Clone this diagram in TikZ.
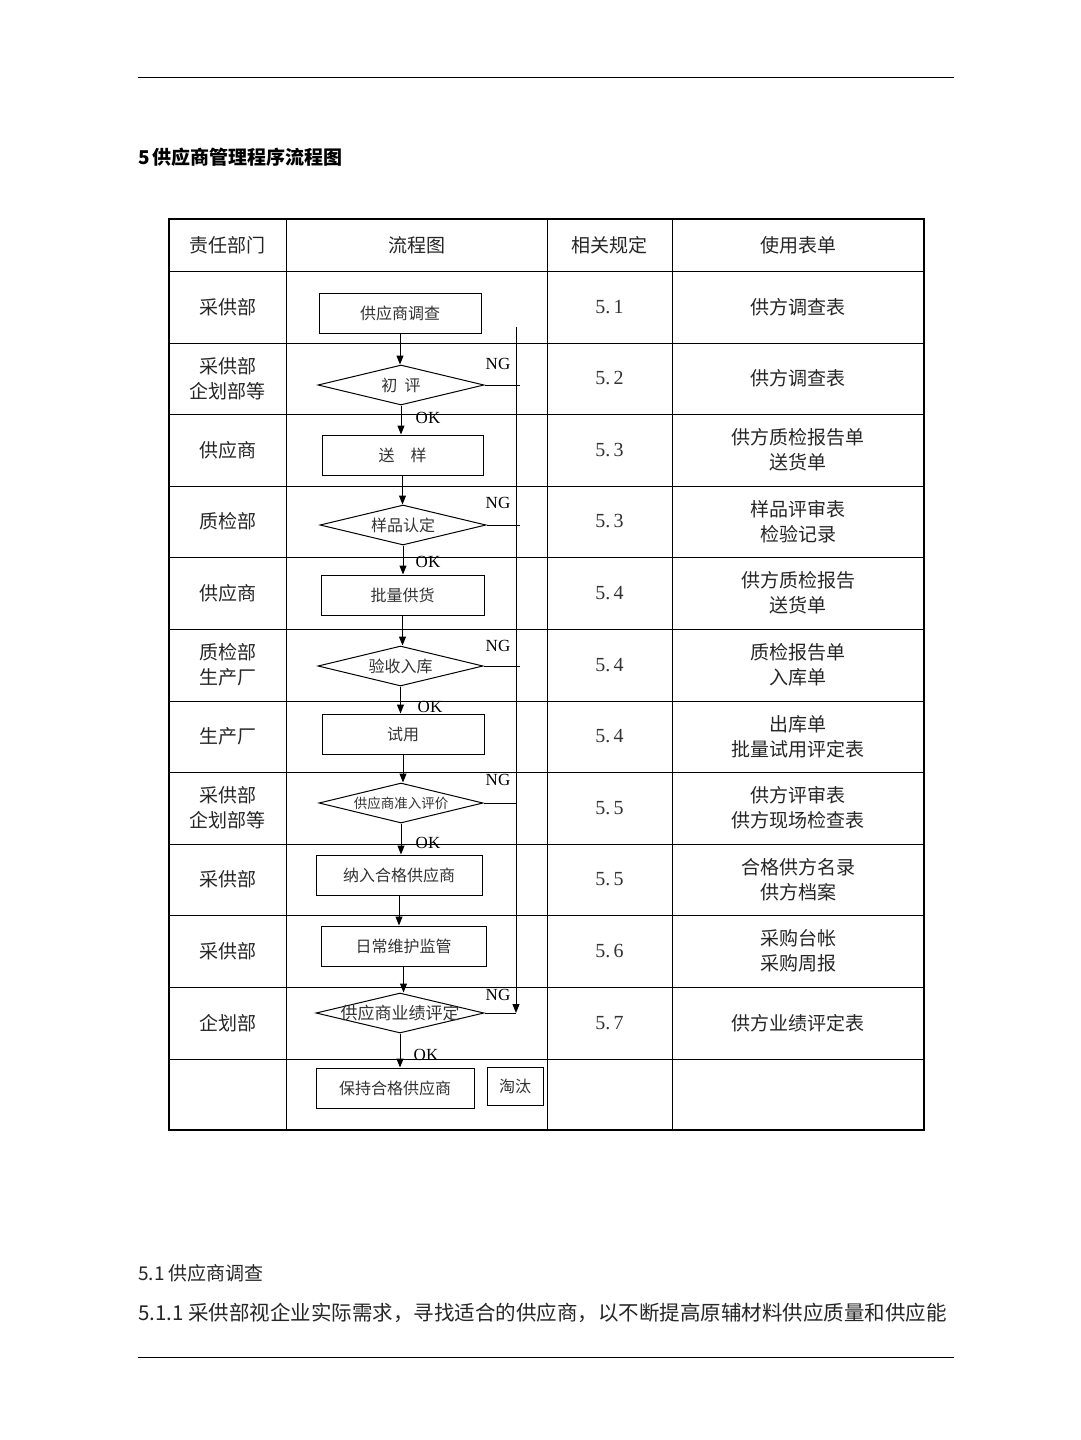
\documentclass[tikz,border=0pt]{standalone}
\usepackage{fontspec}
\newfontfamily\cjk{Noto Sans CJK SC}
\setmainfont{Liberation Serif}
\usetikzlibrary{shapes.geometric,arrows.meta}
\begin{document}
\begin{tikzpicture}[x=1pt,y=-1pt,
  tx/.style={font=\cjk\fontsize{19}{25}\selectfont\color{black!85}, align=center, inner sep=0pt},
  ft/.style={font=\cjk\fontsize{16}{18}\selectfont\color{black!80}, inner sep=0pt},
  box/.style={ft, draw, line width=1pt, minimum width=#1, minimum height=40pt},
  dia/.style={ft, draw, line width=1pt, diamond, shape aspect=4.15, minimum width=166pt, minimum height=40pt},
  lab/.style={font=\fontsize{17}{18}\selectfont, inner sep=0pt},
  arr/.style={line width=1pt, -{Triangle[length=9pt,width=7pt]}},
  ln/.style={line width=1pt}]
\useasboundingbox (0,0) rectangle (1080,1440);
\fill[white] (0,0) rectangle (1080,1440);
% rules
\draw[line width=0.8pt] (138,77) -- (954,77);
\draw[line width=0.8pt] (138,1357) -- (954,1357);
\node[anchor=west, inner sep=0pt, font=\cjk\bfseries\fontsize{19}{23}\selectfont] (title) at (138,157) {5\,供应商管理程序流程图};
\node[anchor=west, tx] (p1) at (138,1273) {5.1 供应商调查};
\node[anchor=west, tx, font=\cjk\fontsize{20.5}{25}\selectfont\color{black!85}] (p2) at (138,1313) {5.1.1 采供部视企业实际需求，寻找适合的供应商，以不断提高原辅材料供应质量和供应能};
% table grid
\foreach \y in {271,343,414,486,557,629,701,772,844,915,987,1059} \draw[line width=1pt] (169,\y) -- (924,\y);
\foreach \x in {286,547,672} \draw[line width=1pt] (\x,219) -- (\x,1130);
\draw[line width=2.2pt] (169,219) rectangle (924,1130);
% header
\node[tx] (h1) at (227.5,245) {责任部门};
\node[tx] (h2) at (416.5,245) {流程图};
\node[tx] (h3) at (609.5,245) {相关规定};
\node[tx] (h4) at (798,245) {使用表单};
% rows
\foreach \yc/\a/\b/\c in {
 307/采供部/5.\,1/供方调查表,
 378.5/采供部\\企划部等/5.\,2/供方调查表,
 450/供应商/5.\,3/供方质检报告单\\送货单,
 521.5/质检部/5.\,3/样品评审表\\检验记录,
 593/供应商/5.\,4/供方质检报告\\送货单,
 665/质检部\\生产厂/5.\,4/质检报告单\\入库单,
 736.5/生产厂/5.\,4/出库单\\批量试用评定表,
 808/采供部\\企划部等/5.\,5/供方评审表\\供方现场检查表,
 879.5/采供部/5.\,5/合格供方名录\\供方档案,
 951/采供部/5.\,6/采购台帐\\采购周报,
 1023/企划部/5.\,7/供方业绩评定表}{
 \node[tx] at (227.5,\yc) {\a};
 \node[tx, font=\fontsize{20}{23}\selectfont\color{black!80}] at (609.5,\yc) {\b};
 \node[tx] at (798,\yc) {\c};
}
% flowchart
\node[box=162pt] (n1) at (400,313.5) {供应商调查};
\node[dia] (d1) at (401,385) {初\ \ 评};
\node[box=161pt] (n2) at (402.5,455) {送\quad 样};
\node[dia] (d2) at (403,525) {样品认定};
\node[box=163pt] (n3) at (402.5,595) {批量供货};
\node[dia, minimum width=165pt] (d3) at (400.5,666) {验收入库};
\node[box=162pt] (n4) at (403,734) {试用};
\node[dia, minimum width=164pt, font=\cjk\fontsize{13.5}{15}\selectfont\color{black!80}] (d4) at (401,803) {供应商准入评价};
\node[box=166pt] (n5) at (399,875) {纳入合格供应商};
\node[box=165pt] (n6) at (403.5,946) {日常维护监管};
\node[dia, minimum width=168pt] (d5) at (400,1013) {};
\node[ft, font=\cjk\fontsize{17}{18}\selectfont\color{black!80}] (d5t) at (d5.center) {供应商业绩评定};
\node[box=158pt] (n7) at (395,1088) {保持合格供应商};
\node[box=56pt, minimum height=38pt] (n8) at (515,1086) {淘汰};
\draw[arr] (n1.south) -- (n1.south |- d1.north);
\draw[arr] (d1.south) -- (d1.south |- n2.north);
\draw[arr] (n2.south) -- (n2.south |- d2.north);
\draw[arr] (d2.south) -- (d2.south |- n3.north);
\draw[arr] (n3.south) -- (n3.south |- d3.north);
\draw[arr] (d3.south) -- (d3.south |- n4.north);
\draw[arr] (n4.south) -- (n4.south |- d4.north);
\draw[arr] (d4.south) -- (d4.south |- n5.north);
\draw[arr] (n5.south) -- (n5.south |- n6.north);
\draw[arr] (n6.south) -- (n6.south |- d5.north);
\draw[arr] (d5.south) -- (d5.south |- n7.north);
% NG line
\coordinate (top) at (516,327);
\coordinate (bot) at (516,1013);
\draw[arr] (top) -- (bot);
\draw[ln] (d1.east) -- (520,385);
\draw[ln] (d2.east) -- (520,525);
\draw[ln] (d3.east) -- (520,666);
\draw[ln] (d4.east) -- (516,803);
\draw[ln] (d5.east) -- (bot);
\foreach \y in {364,503,646,780,995} \node[lab] at (498,\y) {NG};
\node[lab] at (428,418) {OK};
\node[lab] at (428,562) {OK};
\node[lab] at (430,707) {OK};
\node[lab] at (428,843) {OK};
\node[lab] at (426,1055) {OK};
\end{tikzpicture}
\end{document}
